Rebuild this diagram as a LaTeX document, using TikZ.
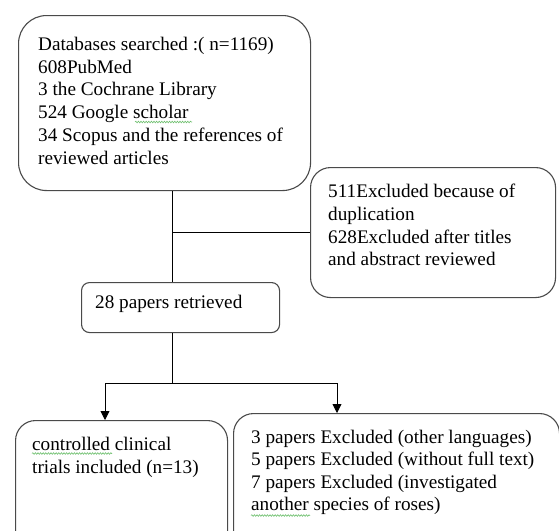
\documentclass[tikz,border=0pt]{standalone}
\usepackage{fontspec}
\setmainfont{Liberation Serif}
\usetikzlibrary{arrows.meta,decorations.pathmorphing}
\definecolor{boxgray}{HTML}{4A4A4A}
\definecolor{spell}{HTML}{6DBF6D}
\tikzset{
  box/.style={draw=boxgray, line width=1.1pt, anchor=north west, inner sep=0pt},
  txt/.style={anchor=north west, inner sep=0pt, align=left, font=\fontsize{19.2}{22.7}\selectfont},
  conn/.style={draw=black, line width=0.9pt},
  arr/.style={conn, -{Triangle[length=9pt,width=9pt]}},
  squiggle/.style={draw=spell, line width=0.6pt, decorate, decoration={snake, amplitude=0.8pt, segment length=2.6pt}}
}
\begin{document}
\begin{tikzpicture}[x=1pt,y=-1pt]
\useasboundingbox (0,0) rectangle (559,530);
\fill[white] (0,0) rectangle (559,530);
\clip (0,0) rectangle (559,530);
% boxes
\node[box, rounded corners=28pt, minimum width=292pt, minimum height=175pt] (db) at (18,15) {};
\node[box, rounded corners=20pt, minimum width=245pt, minimum height=130pt] (ex1) at (310,167) {};
\node[box, rounded corners=8pt, minimum width=198pt, minimum height=50pt] (ret) at (81,282) {};
\node[box, rounded corners=20pt, minimum width=212pt, minimum height=140pt] (inc) at (15,420) {};
\node[box, rounded corners=20pt, minimum width=326pt, minimum height=146pt] (ex2) at (233,413) {};
% texts
\node[txt] (t1) at (38,37) {Databases searched :( n=1169)\\608PubMed\\3 the Cochrane Library\\524 Google scholar\\34 Scopus and the references of\\reviewed articles};
\node[txt] (t2) at (328,184) {511Excluded because of\\duplication\\628Excluded after titles\\and abstract reviewed};
\node[txt] (t3) at (95,295) {28 papers retrieved};
\node[txt] (t4) at (32,437) {controlled clinical\\trials included (n=13)};
\node[txt, font=\fontsize{19.2}{22.4}\selectfont] (t5) at (251,430) {3 papers Excluded (other languages)\\5 papers Excluded (without full text)\\7 papers Excluded (investigated\\another species of roses)};
% connectors
\coordinate (vx) at (172,0);
\coordinate (jl) at (105,383);
\coordinate (jr) at (337,383);
\draw[conn] (db.south -| vx) -- (ret.north -| vx);
\draw[conn] (ex1.west -| vx) -- (ex1.west);
\draw[conn] (ret.south -| vx) -- (vx |- jl);
\draw[conn] (jl) -- (jr);
\draw[arr] (jl) -- (jl |- inc.north);
\draw[arr] (jr) -- (jr |- ex2.north);
% spelling marks
\draw[squiggle] (135,122) -- (192,122);
\draw[squiggle] (32,453.5) -- (112,453.5);
\draw[squiggle] (251,515.5) -- (310,515.5);
\end{tikzpicture}
\end{document}
